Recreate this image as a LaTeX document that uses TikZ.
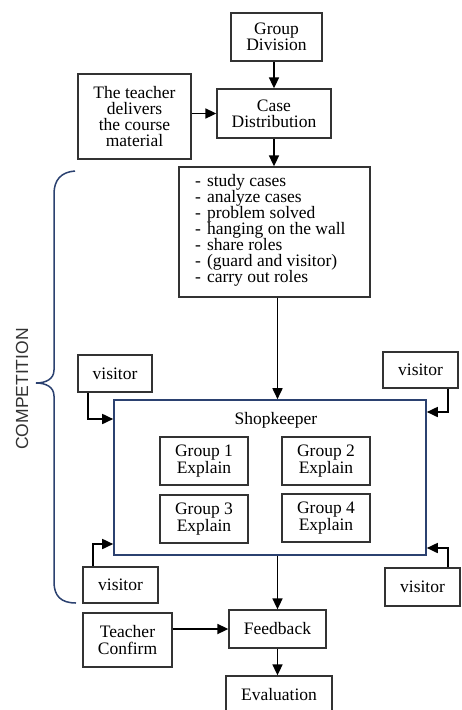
\documentclass[tikz,border=0pt]{standalone}
\usepackage{fontspec}
\setmainfont{Liberation Serif}
\setsansfont{Liberation Sans}
\usetikzlibrary{arrows.meta}
\definecolor{boxgray}{HTML}{333333}
\definecolor{navy}{HTML}{2B4170}
\begin{document}
\begin{tikzpicture}[x=1pt,y=-1pt,
  box/.style={draw=boxgray, line width=1.3pt, inner sep=0pt, align=center,
    font=\fontsize{17.5}{16.3}\selectfont},
  arr/.style={line width=1.7pt, -{Triangle[length=11pt,width=10pt]}},
]
\useasboundingbox (0,0) rectangle (461,710);
\fill[white] (0,0) rectangle (461,710);

\node[box, minimum width=91pt, minimum height=48pt] (gd) at (276.5,37) {Group\\Division};
\node[box, minimum width=114pt, minimum height=49pt] (cd) at (274,113.5) {Case\\Distribution};
\node[box, minimum width=113pt, minimum height=85pt] (td) at (134.5,116.5) {The teacher\\delivers\\the course\\material};
\node[box, minimum width=191pt, minimum height=130pt] (list) at (274.5,232) {};
\node[font=\fontsize{17.5}{16}\selectfont, align=left, anchor=north west, inner sep=0pt] (listtxt) at (195,174)
  {-\hspace{6pt}study cases\\
   -\hspace{6pt}analyze cases\\
   -\hspace{6pt}problem solved\\
   -\hspace{6pt}hanging on the wall\\
   -\hspace{6pt}share roles\\
   -\hspace{6pt}(guard and visitor)\\
   -\hspace{6pt}carry out roles};

\node[draw=navy, line width=1.6pt, minimum width=312pt, minimum height=155pt, inner sep=0pt] (shop) at (270,477.5) {};
\node[font=\fontsize{17.5}{16}\selectfont, inner sep=0pt] (shoptxt) at (276,420) {Shopkeeper};

\node[box, minimum width=88pt, minimum height=48pt] (g1) at (204,461) {Group 1\\Explain};
\node[box, minimum width=88pt, minimum height=48pt] (g2) at (326,461) {Group 2\\Explain};
\node[box, minimum width=88pt, minimum height=48pt] (g3) at (204,519) {Group 3\\Explain};
\node[box, minimum width=88pt, minimum height=48pt] (g4) at (326,518) {Group 4\\Explain};

\node[box, minimum width=74pt, minimum height=37pt] (v1) at (115,373.5) {visitor};
\node[box, minimum width=75pt, minimum height=36pt] (v2) at (420.5,370) {visitor};
\node[box, minimum width=75pt, minimum height=36pt] (v3) at (120.5,585) {visitor};
\node[box, minimum width=75pt, minimum height=38pt] (v4) at (422.5,587) {visitor};

\node[box, minimum width=97pt, minimum height=38pt] (fb) at (277.5,629) {Feedback};
\node[box, minimum width=89pt, minimum height=54pt] (tc) at (127.5,640) {Teacher\\Confirm};
\node[box, minimum width=106pt, minimum height=38pt] (ev) at (279,695) {Evaluation};

% connectors
\draw[arr] (gd.south -| cd.north) -- (cd.north);
\draw[arr] (td.east |- cd.west) -- (cd.west);
\draw[arr] (cd.south) -- (cd.south |- list.north);
\draw[arr] (list.south -| fb.north) -- (fb.north |- shop.north);
\draw[arr] (shop.south -| fb.north) -- (fb.north);
\draw[arr] (fb.south) -- (fb.south |- ev.north);
\draw[arr] (tc.east |- fb.west) -- (fb.west);

\coordinate (c1) at (88,419);
\coordinate (c2) at (448,412);
\coordinate (c3) at (93,544);
\coordinate (c4) at (448,548);
\draw[arr] (v1.south -| c1) -- (c1) -- (c1 -| shop.west);
\draw[arr] (v2.south -| c2) -- (c2) -- (c2 -| shop.east);
\draw[arr] (v3.north -| c3) -- (c3) -- (c3 -| shop.west);
\draw[arr] (v4.north -| c4) -- (c4) -- (c4 -| shop.east);

% brace
\draw[navy, line width=1.5pt]
  (75,171) .. controls (61,172) and (54,180) .. (54,194)
  -- (54,370) .. controls (54,379) and (46,383) .. (36,383)
  .. controls (46,383) and (54,387) .. (54,396)
  -- (54,582) .. controls (54,596) and (61,603) .. (76,603);
\node[rotate=90, font=\sffamily\fontsize{17.5}{18}\selectfont, text=boxgray, inner sep=0pt] (comp) at (22,389) {COMPETITION};
\end{tikzpicture}
\end{document}
